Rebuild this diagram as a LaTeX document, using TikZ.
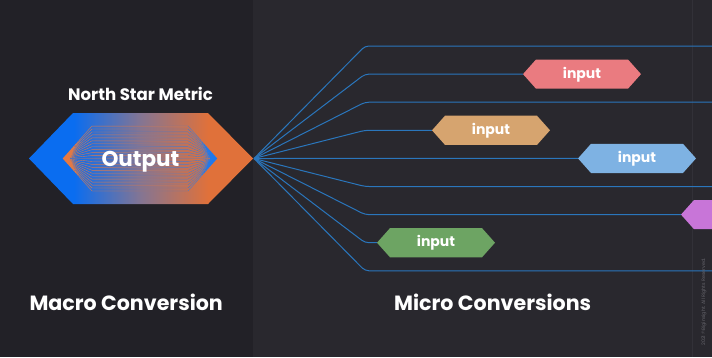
\documentclass[tikz,border=0pt]{standalone}
\usepackage{fontspec}
\setmainfont{Poppins}
\usetikzlibrary{fadings}
\definecolor{bgleft}{HTML}{222127}
\definecolor{bgright}{HTML}{29282E}
\definecolor{sepline}{HTML}{323138}
\definecolor{fanblue}{HTML}{2A76BC}
\definecolor{hexblue}{HTML}{0A6DF0}
\definecolor{hexmid}{HTML}{857592}
\definecolor{hexorange}{HTML}{E0713A}
\definecolor{lineorange}{HTML}{EC7A3E}
\definecolor{lineblue}{HTML}{1878F2}
\definecolor{inred}{HTML}{EA7B80}
\definecolor{intan}{HTML}{D6A46F}
\definecolor{inblue}{HTML}{7EB2E3}
\definecolor{inpurple}{HTML}{C875D8}
\definecolor{ingreen}{HTML}{6DA463}
\definecolor{copygray}{HTML}{65646B}
\pgfdeclarehorizontalshading{hexshade}{100bp}{color(0bp)=(hexblue); color(35bp)=(hexblue); color(50bp)=(hexmid); color(65bp)=(hexorange); color(100bp)=(hexorange)}
\tikzfading[name=fadeleft, left color=transparent!100, right color=transparent!0]
\newcommand\inputhex[5]{%
  \fill[#4] ({#2-59},#3) -- ({#2-46},{#3-14.6}) -- ({#2+46},{#3-14.6}) -- ({#2+59},#3) -- ({#2+46},{#3+14.6}) -- ({#2-46},{#3+14.6}) -- cycle;
  \node[inptext] (#1) at (#2,#3) {#5};}
\tikzset{
  fanline/.style={draw=fanblue, line width=1, rounded corners=4},
  hexline/.style={line width=0.4},
  inptext/.style={text=white, font=\bfseries\fontsize{14}{16}\selectfont, minimum width=118, minimum height=29, inner sep=0, text height=8.5, text depth=0},
  title/.style={text=white, font=\bfseries\fontsize{20.6}{24}\selectfont, inner sep=0, anchor=base west},
}
\begin{document}
\begin{tikzpicture}[x=1pt,y=-1pt]
\useasboundingbox (0,0) rectangle (712,357);
\clip (0,0) rectangle (712,357);
% backgrounds
\fill[bgright] (0,0) rectangle (712,357);
\fill[bgleft] (0,0) rectangle (253,357);
\draw[sepline, line width=1] (692.5,0) -- (692.5,357);
% main hexagon
\shade[shading=hexshade] (29,158.5) -- (73,113) -- (208,113) -- (253,158.5) -- (208,204) -- (73,204) -- cycle;
\draw[hexline, lineorange] \foreach \k in {0,...,11}{
  (63,158.5) -- (92,{158.5-2.95*\k}) -- (188,{158.5-2.95*\k}) -- (217,158.5)
  (63,158.5) -- (92,{158.5+2.95*\k}) -- (188,{158.5+2.95*\k}) -- (217,158.5)};
\draw[hexline, lineblue, path fading=fadeleft] \foreach \k in {0,...,11}{
  (63,158.5) -- (92,{158.5-2.95*\k}) -- (188,{158.5-2.95*\k}) -- (217,158.5)
  (63,158.5) -- (92,{158.5+2.95*\k}) -- (188,{158.5+2.95*\k}) -- (217,158.5)};
\node[text=white, font=\bfseries\fontsize{21.5}{26}\selectfont, inner sep=0, anchor=base] (main) at (140.5,166) {Output};
\node[text=white, font=\bfseries\fontsize{16.6}{20}\selectfont, inner sep=0, anchor=base] (nsm) at (140.5,100.7) {North Star Metric};
\coordinate (fan) at (254,158.5);
% input boxes
\inputhex{in1}{582}{74.1}{inred}{input}
\inputhex{in3}{491}{130.3}{intan}{input}
\inputhex{in4}{637}{158.4}{inblue}{input}
\inputhex{in6}{740}{214.6}{inpurple}{}
\inputhex{in7}{436}{242.7}{ingreen}{input}
% right free ends
\coordinate (e0) at (714,46);
\coordinate (e2) at (714,102.2);
\coordinate (e5) at (714,186.5);
\coordinate (e8) at (714,270.8);
% fan connectors
\draw[fanline] (fan) -- (365,46) -- (e0);
\draw[fanline] (fan) -- (365,74.1) -- (in1.west);
\draw[fanline] (fan) -- (365,102.2) -- (e2);
\draw[fanline] (fan) -- (365,130.3) -- (in3.west);
\draw[fanline] (fan) -- (in4.west);
\draw[fanline] (fan) -- (365,186.5) -- (e5);
\draw[fanline] (fan) -- (365,214.6) -- (in6.west);
\draw[fanline] (fan) -- (365,242.7) -- (in7.west);
\draw[fanline] (fan) -- (365,270.8) -- (e8);
% titles
\node[title] (macro) at (29.3,310.7) {Macro Conversion};
\node[title] (micro) at (394,310.3) {Micro Conversions};
\node[text=copygray, font=\fontsize{4.8}{5}\selectfont, rotate=90, inner sep=0] (copy) at (704,302) {2021 ©Biginsight. All Rights Reserved.};
\end{tikzpicture}
\end{document}
